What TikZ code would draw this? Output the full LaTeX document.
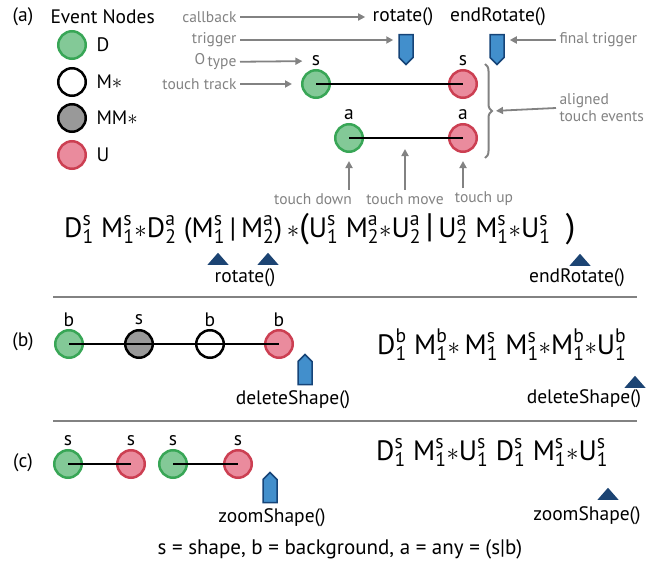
\documentclass[tikz,border=0pt]{standalone}
\usepackage{fontspec}
\setmainfont{PT Sans}
\usepackage{amsmath}
\usetikzlibrary{arrows.meta,shapes.symbols,shapes.geometric,decorations.pathreplacing}

\definecolor{dgreen}{RGB}{56,166,86}
\definecolor{lgreen}{RGB}{131,201,151}
\definecolor{dred}{RGB}{204,63,82}
\definecolor{lred}{RGB}{234,139,157}
\definecolor{notegray}{RGB}{130,130,130}
\definecolor{mblue}{RGB}{66,143,204}
\definecolor{mdark}{RGB}{22,68,120}
\definecolor{tnavy}{RGB}{28,68,115}

\newcommand\ev[3]{$\text{#1}^{\text{#3}}_{\text{#2}}$}
\newcommand\rep{$\ast$}
\newcommand\bigp[1]{{\fontsize{34}{34}\selectfont#1}}

\tikzset{
  evbase/.style={circle, line width=2.5pt, minimum size=27.5pt, inner sep=0pt},
  evD/.style={evbase, draw=dgreen, fill=lgreen},
  evM/.style={evbase, draw=black, fill=white},
  evMM/.style={evbase, draw=black, fill=black!40},
  evU/.style={evbase, draw=dred, fill=lred},
  track/.style={line width=2pt},
  lbl/.style={font=\fontsize{19.5}{22}\selectfont},
  note/.style={text=notegray, font=\fontsize{15.5}{17}\selectfont},
  notearrow/.style={-{Triangle[length=7pt,width=7pt]}, draw=notegray, line width=1.8pt},
  marker/.style={signal, signal from=nowhere, draw=mdark, fill=mblue, line width=1.5pt,
    minimum width=14pt, minimum height=23pt, inner sep=0pt},
  cue/.style={isosceles triangle, isosceles triangle stretches, shape border rotate=90,
    fill=tnavy, minimum width=21pt, minimum height=12pt, inner sep=0pt},
  formula/.style={font=\fontsize{28}{32}\selectfont, anchor=base west, inner sep=0pt},
  brace/.style={decorate, decoration={brace, amplitude=7pt}, draw=notegray, line width=2pt},
  sep/.style={draw=notegray, line width=2pt}
}

\begin{document}
\begin{tikzpicture}[x=1pt, y=-1pt]
\useasboundingbox (0,0) rectangle (665,570);

\node[lbl] (tagA) at (23,17) {(a)};
\node[lbl, anchor=west] (legTitle) at (47,17) {Event Nodes};
\node[evD] (legD) at (72,45) {};
\node[evM] (legM) at (72,82) {};
\node[evMM] (legMM) at (72,118) {};
\node[evU] (legU) at (72,155) {};
\node[lbl, anchor=west] (legDtxt) at (93,45) {D};
\node[lbl, anchor=west] (legMtxt) at (93,82) {M\rep};
\node[lbl, anchor=west] (legMMtxt) at (93,118) {MM\rep};
\node[lbl, anchor=west] (legUtxt) at (93,155) {U};

\node[evD] (trkS1) at (316,84) {};
\node[evU] (trkS2) at (463,84) {};
\node[evD] (trkA1) at (349,138) {};
\node[evU] (trkA2) at (463,138) {};
\draw[track] (trkS1.center) -- (trkS2.center);
\draw[track] (trkA1.center) -- (trkA2.center);
\node[lbl] (tagS1) at (316,61) {s};
\node[lbl] (tagS2) at (463,61) {s};
\node[lbl] (tagA1) at (349,115) {a};
\node[lbl] (tagA2) at (463,115) {a};
\coordinate (trkMid) at (405,138);

\node[lbl] (cbRot) at (403,17) {rotate()};
\node[lbl] (cbEnd) at (498,17) {endRotate()};
\node[marker, signal to=south] (mkRot) at (406,46) {};
\node[marker, signal to=south] (mkEnd) at (497,46) {};

\node[note, anchor=east] (nCallback) at (240,17) {callback};
\node[note, anchor=east] (nTrigger) at (240,40) {trigger};
\node[note, anchor=east] (nType) at (240,62) {\raisebox{2pt}{O}\,type};
\node[note, anchor=east] (nTrack) at (240,84) {touch track};
\node[note, anchor=west] (nFinal) at (556,40) {final trigger};
\node[note, anchor=west, align=left] (nAligned) at (556,108) {aligned\\touch events};
\node[note] (nDown) at (313,199) {touch down};
\node[note] (nMove) at (405,199) {touch move};
\node[note] (nUp) at (484,199) {touch up};

\draw[notearrow, shorten >=4pt] (nCallback) -- (cbRot);
\draw[notearrow, shorten >=5pt] (nTrigger.east) -- (nTrigger.east -| mkRot.west);
\draw[notearrow, shorten >=6pt] (nType) -- (tagS1);
\draw[notearrow, shorten >=9pt] (nTrack) -- (trkS1.west);
\draw[notearrow, shorten >=5pt] (nFinal.west) -- (nFinal.west -| mkEnd.east);
\draw[brace] (485,64) -- (485,158) coordinate[midway, xshift=8pt] (brTip);
\draw[notearrow, shorten >=3pt] (nAligned.west) -- (brTip);
\draw[notearrow, shorten >=8pt] (nDown.north -| trkA1) -- (trkA1.south);
\draw[notearrow, shorten >=11pt] (nMove.north -| trkMid) -- (trkMid);
\draw[notearrow, shorten >=8pt] (nUp.north -| trkA2) -- (trkA2.south);

\node[formula] (exprA) at (64,237) {\ev{D}{1}{s} \ev{M}{1}{s}\rep\ev{D}{2}{a} (\ev{M}{1}{s}\,|\,\ev{M}{2}{a})\,\rep\bigp{(}\ev{U}{1}{s} \ev{M}{2}{a}\rep\ev{U}{2}{a}\,\bigp{|}\,\ev{U}{2}{a} \ev{M}{1}{s}\rep\ev{U}{1}{s} \;\bigp{)}};
\node[cue] (cueRot1) at (218,260) {};
\node[cue] (cueRot2) at (268,260) {};
\node[lbl] (cbRot2) at (245,278) {rotate()};
\node[cue] (cueEnd) at (580,261) {};
\node[lbl] (cbEnd2) at (577,278) {endRotate()};

\draw[sep] (53,297) -- (637,297);

\node[lbl] (tagB) at (23,342) {(b)};
\node[evD] (bgD) at (69,344) {};
\node[evMM] (bgMM) at (139,344) {};
\node[evM] (bgM) at (210,344) {};
\node[evU] (bgU) at (279,344) {};
\draw[track] (bgD.center) -- (bgU.center);
\node[lbl] (tagB1) at (69,320) {b};
\node[lbl] (tagB2) at (139,320) {s};
\node[lbl] (tagB3) at (210,320) {b};
\node[lbl] (tagB4) at (279,320) {b};
\node[marker, signal to=north] (mkDel) at (305,373) {};
\node[lbl] (cbDel) at (293,400) {deleteShape()};
\node[formula] (exprB) at (377,354) {\ev{D}{1}{b} \ev{M}{1}{b}\rep\,\ev{M}{1}{s} \ev{M}{1}{s}\rep\ev{M}{1}{b}\rep\ev{U}{1}{b}};
\node[cue] (cueDel) at (635,383) {};
\node[lbl] (cbDel2) at (584,399) {deleteShape()};

\draw[sep] (53,421) -- (637,421);

\node[lbl] (tagC) at (23,463) {(c)};
\node[evD] (zmD1) at (68,464) {};
\node[evU] (zmU1) at (131,464) {};
\node[evD] (zmD2) at (173,464) {};
\node[evU] (zmU2) at (238,464) {};
\draw[track] (zmD1.center) -- (zmU1.center);
\draw[track] (zmD2.center) -- (zmU2.center);
\node[lbl] (tagC1) at (68,441) {s};
\node[lbl] (tagC2) at (131,441) {s};
\node[lbl] (tagC3) at (173,441) {s};
\node[lbl] (tagC4) at (238,441) {s};
\node[marker, signal to=north] (mkZoom) at (270,491) {};
\node[lbl] (cbZoom) at (272,518) {zoomShape()};
\node[formula] (exprC) at (376,460) {\ev{D}{1}{s} \ev{M}{1}{s}\rep\ev{U}{1}{s} \ev{D}{1}{s} \ev{M}{1}{s}\rep\ev{U}{1}{s}};
\node[cue] (cueZoom) at (608,495) {};
\node[lbl] (cbZoom2) at (587,516) {zoomShape()};

\node[lbl, font=\fontsize{21}{24}\selectfont] (keyText) at (340,549) {s = shape, b = background, a = any = (s|b)};
\end{tikzpicture}
\end{document}
